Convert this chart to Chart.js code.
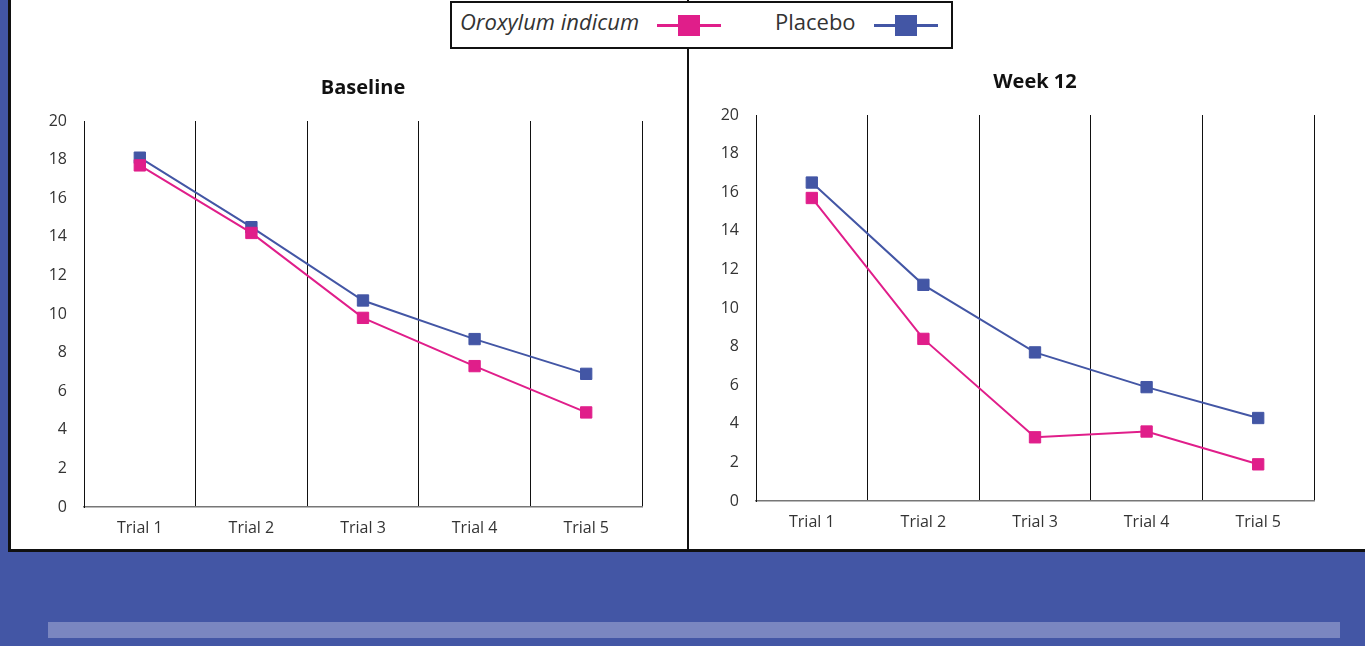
<!DOCTYPE html>
<html>
<head>
<meta charset="utf-8">
<script src="https://cdn.jsdelivr.net/npm/chart.js@4.4.1/dist/chart.umd.min.js"></script>
<style>
  body { margin: 0; width: 1365px; height: 646px; background: #4356a5; overflow: hidden; position: relative; font-family: "Open Sans", Lato, sans-serif; }
  #panel { position: absolute; left: 8px; top: -3px; width: 1380px; height: 555px; background: #fff; border: 3px solid #111; box-sizing: border-box; }
  #divider { position: absolute; left: 687px; top: 0; width: 2px; height: 550px; background: #111; }
  #bar { position: absolute; left: 48px; top: 622px; width: 1292px; height: 16px; background: #7a86c0; }
  .wrap { position: absolute; }
  #legend { position: absolute; left: 450px; top: 1px; width: 503px; height: 48px; background: #fff; border: 2px solid #111; box-sizing: border-box; }
  .ltext { position: absolute; top: 5px; font-size: 22px; color: #333; line-height: 26px; }
  .lline { position: absolute; top: 21px; width: 64px; height: 3px; }
  .lsq { position: absolute; top: -9px; left: 21px; width: 22px; height: 21px; }
</style>
</head>
<body>
<div id="panel"></div>
<div id="divider"></div>
<div id="bar"></div>
<div class="wrap" style="left:20px; top:76px; width:660px; height:471px;"><canvas id="baseChart"></canvas></div>
<div class="wrap" style="left:692px; top:70px; width:660px; height:471px;"><canvas id="weekChart"></canvas></div>
<div id="legend"></div>
<script>
  const trials = ['Trial 1', 'Trial 2', 'Trial 3', 'Trial 4', 'Trial 5'];
  const seriesNames = ['Oroxylum indicum', 'Placebo'];
  const seriesColors = ['#e01e8a', '#4356a5'];

  const baselineOroxylum = [17.7, 14.2, 9.8, 7.3, 4.9];
  const baselinePlacebo = [18.1, 14.5, 10.7, 8.7, 6.9];
  const week12Oroxylum = [15.7, 8.4, 3.3, 3.6, 1.9];
  const week12Placebo = [16.5, 11.2, 7.7, 5.9, 4.3];

  const yMin = 0, yMax = 20, yStep = 2;

  function makeDataset(i, values) {
    return {
      label: seriesNames[i],
      data: values,
      borderColor: seriesColors[i],
      backgroundColor: seriesColors[i],
      borderWidth: 2,
      pointStyle: 'rect',
      pointRadius: 8,
      pointBorderWidth: 1,
      pointHoverRadius: 8,
      tension: 0
    };
  }

  function makeChart(id, title, orox, placebo, titlePad) {
    const ctx = document.getElementById(id).getContext('2d');
    return new Chart(ctx, {
      type: 'line',
      data: {
        labels: trials,
        datasets: [makeDataset(0, orox), makeDataset(1, placebo)]
      },
      options: {
        responsive: true,
        maintainAspectRatio: false,
        animation: false,
        layout: { padding: { left: 0, right: 38, top: 0, bottom: 0 } },
        plugins: {
          legend: { display: false },
          tooltip: { enabled: false },
          title: {
            display: true,
            fullSize: false,
            text: title,
            color: '#111',
            font: { family: 'Open Sans', size: 20, weight: 'bold', lineHeight: 1.2 },
            padding: { top: 0, bottom: titlePad }
          }
        },
        scales: {
          x: {
            offset: true,
            grid: { offset: true, color: '#111', lineWidth: 1, drawTicks: false },
            border: { display: true, color: '#777', width: 1.5 },
            ticks: { color: '#333', padding: 12, font: { family: 'Open Sans', size: 16 } },
            afterFit: s => { s.height = 40; }
          },
          y: {
            min: yMin,
            max: yMax,
            grid: { display: false, drawTicks: false },
            border: { display: true, color: '#111', width: 1 },
            ticks: { stepSize: yStep, color: '#333', padding: 17, font: { family: 'Open Sans', size: 16 } },
            afterFit: s => { s.width = 64; }
          }
        }
      }
    });
  }

  makeChart('baseChart', 'Baseline', baselineOroxylum, baselinePlacebo, 21);
  makeChart('weekChart', 'Week 12', week12Oroxylum, week12Placebo, 21);

  // shared legend built from the series names and colours
  const legend = document.getElementById('legend');
  const textLeft = [8, 323];
  const markLeft = [205, 422];
  seriesNames.forEach((name, i) => {
    const t = document.createElement('div');
    t.className = 'ltext';
    t.style.left = textLeft[i] + 'px';
    if (i === 0) t.style.fontStyle = 'italic';
    t.textContent = name;
    legend.appendChild(t);

    const l = document.createElement('div');
    l.className = 'lline';
    l.style.left = markLeft[i] + 'px';
    l.style.background = seriesColors[i];
    const sq = document.createElement('div');
    sq.className = 'lsq';
    sq.style.background = seriesColors[i];
    l.appendChild(sq);
    legend.appendChild(l);
  });
</script>
</body>
</html>
